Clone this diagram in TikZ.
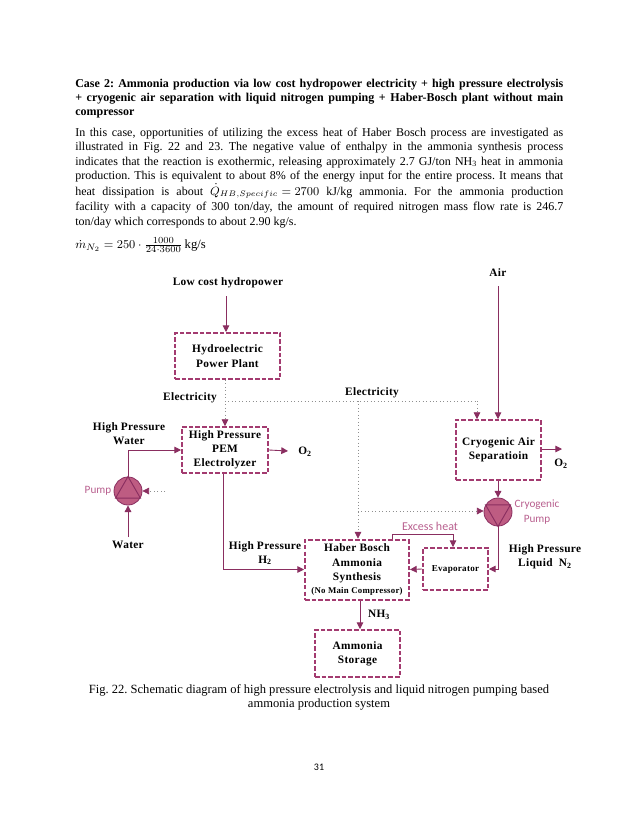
\documentclass[tikz,border=0pt]{standalone}
\usepackage{fontspec}
\usepackage{amsmath}
\setmainfont{Liberation Serif}
\newfontfamily\calfont{Carlito}
\newfontfamily\labfont[LetterSpace=3]{Liberation Serif}
\usetikzlibrary{arrows.meta}
\definecolor{dashc}{HTML}{A33B70}
\definecolor{linec}{HTML}{8A2E60}
\definecolor{pumpf}{HTML}{BE5C82}
\definecolor{pumpt}{HTML}{B9608F}
\definecolor{dotc}{HTML}{8F8F8F}
\frenchspacing
\tikzset{
 para/.style={anchor=base west,inner sep=0pt,font=\fontsize{9}{10.7}\selectfont},
 head/.style={para,font=\fontsize{9}{10.7}\selectfont\bfseries},
 lab/.style={inner sep=0pt,align=center,font=\fontsize{8.5}{10.7}\selectfont\labfont\bfseries},
 plab/.style={inner sep=0pt,align=center,text=pumpt,font=\fontsize{8.4}{10.7}\selectfont\calfont},
 unit/.style={draw=dashc,line width=1.5pt,dash pattern=on 3.4pt off 1.6pt,inner sep=0pt,align=center,font=\fontsize{8.5}{10.7}\selectfont\labfont\bfseries},
 pumpc/.style={circle,draw=linec,fill=pumpf,line width=.6pt,minimum size=21pt,inner sep=0pt},
 flow/.style={draw=linec,line width=.65pt,-{Triangle[length=5pt,width=5pt,color=linec]}},
 elec/.style={draw=dotc,line width=.5pt,dash pattern=on .6pt off 2pt,-{Triangle[length=5pt,width=5pt,color=linec]}},
 elecp/.style={draw=dotc,line width=.5pt,dash pattern=on .6pt off 2pt},
 tri/.style={draw=linec,line width=.7pt}
}
\newcommand{\fl}[1]{\makebox[366pt][s]{#1}}
\begin{document}
\begin{tikzpicture}[x=0.75pt,y=-0.75pt]
\useasboundingbox[fill=white] (0,0) rectangle (638,826);
% text
\node[head] (h1) at (75,87) {\fl{Case 2: Ammonia production via low cost hydropower electricity + high pressure electrolysis}};
\node[head] (h2) at (75,101) {\fl{+ cryogenic air separation with liquid nitrogen pumping + Haber-Bosch plant without main}};
\node[head] (h3) at (75,115.5) {compressor};
\node[para] (p1) at (75,136) {\fl{In this case, opportunities of utilizing the excess heat of Haber Bosch process are investigated as}};
\node[para] (p2) at (75,150.5) {\fl{illustrated in Fig. 22 and 23. The negative value of enthalpy in the ammonia synthesis process}};
\node[para] (p3) at (75,165) {\fl{indicates that the reaction is exothermic, releasing approximately 2.7 GJ/ton NH\textsubscript{3} heat in ammonia}};
\node[para] (p4) at (75,179.5) {\fl{production. This is equivalent to about 8\% of the energy input for the entire process. It means that}};
\node[para] (p5) at (75,195) {\fl{heat dissipation is about \mbox{$\dot{Q}_{HB,Specific}=2700$} kJ/kg ammonia. For the ammonia production}};
\node[para] (p6) at (75,210) {\fl{facility with a capacity of 300 ton/day, the amount of required nitrogen mass flow rate is 246.7}};
\node[para] (p7) at (75,225) {ton/day which corresponds to about 2.90 kg/s.};
\node[para,font=\fontsize{9.5}{11}\selectfont] (eq) at (75,248) {$\dot{m}_{N_2}=250\cdot\frac{1000}{24\cdot 3600}$\,kg/s};
% units
\node[unit,minimum width=78.75pt,minimum height=34.5pt] (hydro) at (227.5,356) {Hydroelectric\\Power Plant};
\node[unit,minimum width=64.5pt,minimum height=34.5pt] (pem) at (225,450) {High Pressure\\PEM\\Electrolyzer};
\node[unit,minimum width=63.75pt,minimum height=45pt] (cryo) at (498.5,450) {Cryogenic Air\\Separatioin};
\node[unit,minimum width=78pt,minimum height=45pt] (haber) at (357,569.5) {Haber Bosch\\Ammonia\\Synthesis\\[-1pt]{\fontsize{6.6}{8}\selectfont (No Main Compressor)}};
\node[unit,minimum width=48.75pt,minimum height=31.5pt,font=\fontsize{6.8}{8}\selectfont\labfont\bfseries] (evap) at (455.5,569) {Evaporator};
\node[unit,minimum width=63.75pt,minimum height=35.25pt] (store) at (357.5,653.5) {Ammonia\\Storage};
% pumps
\node[pumpc] (wp) at (128,491) {};
\draw[tri] (wp.90) -- (wp.210) -- (wp.330) -- cycle;
\node[pumpc] (cp) at (498,512) {};
\draw[tri] (cp.270) -- (cp.150) -- (cp.30) -- cycle;
% labels
\node[lab] (lch) at (228,283) {Low cost hydropower};
\node[lab] (air) at (498,273) {Air};
\node[lab] (el1) at (190,398) {Electricity};
\node[lab] (el2) at (372,393) {Electricity};
\node[lab] (hpw) at (129,434) {High Pressure\\Water};
\node[lab] (o2a) at (305,451.5) {O\textsubscript{2}};
\node[lab] (o2b) at (561,464) {O\textsubscript{2}};
\node[plab] (pl) at (98,491) {Pump};
\node[lab] (wat) at (128,545) {Water};
\node[lab] (hph) at (265,553) {High Pressure\\H\textsubscript{2}};
\node[plab,font=\fontsize{9}{10.7}\selectfont\calfont] (exh) at (430,526) {Excess heat};
\node[plab] (cpl) at (537,512) {Cryogenic\\Pump};
\node[lab] (hpl) at (545,557) {High Pressure\\Liquid\ \ N\textsubscript{2}};
\node[lab] (nh3) at (379,615) {NH\textsubscript{3}};
% caption
\node[inner sep=0pt,align=center,font=\fontsize{9.4}{10.6}\selectfont] (cap) at (319,697) {Fig. 22. Schematic diagram of high pressure electrolysis and liquid nitrogen pumping based\\ammonia production system};
\node[inner sep=0pt,font=\fontsize{7.5}{9}\selectfont\calfont] (pg) at (319,767) {31};
% free ends and routing columns
\coordinate (lchb) at (226,296);
\coordinate (airb) at (498,286);
\coordinate (ej) at (225,401);
\coordinate (ec) at (477,401);
\coordinate (eh) at (358,401);
\coordinate (ep) at (358,511);
\coordinate (o2ae) at (288,451);
\coordinate (o2be) at (562,449);
\coordinate (wate) at (128,537);
\coordinate (pe) at (165,491);
\coordinate (xh) at (223,0);
\coordinate (xn) at (360,0);
\coordinate (xa) at (392,0);
\coordinate (xb) at (453,534);
% connectors
\draw[flow] (lchb) -- (lchb |- hydro.north);
\draw[flow] (airb) -- (airb |- cryo.north);
\draw[elec] (pem.north |- hydro.south) -- (pem.north);
\draw[elecp] (ej) -- (ec);
\draw[elec] (ec) -- (ec |- cryo.north);
\draw[elec] (eh) -- (eh |- haber.north);
\draw[elec] (ep) -- (cp.west |- ep);
\draw[elec] (pe) -- (wp.east);
\draw[flow] (wp.north) |- (pem.west);
\draw[flow] (pem.east) -- (o2ae);
\draw[flow] (cryo.east |- o2be) -- (o2be);
\draw[flow] (wate) -- (wp.south);
\draw[flow] (xh |- pem.south) |- (haber.west);
\draw[flow] (cp.north |- cryo.south) -- (cp.north);
\draw[flow] (cp.south) |- (evap.east);
\draw[flow] (evap.west) -- (haber.east);
\draw[flow] (xn |- haber.south) -- (xn |- store.north);
\draw[flow] (xa |- haber.north) |- (xb) -- (xb |- evap.north);
\end{tikzpicture}
\end{document}
